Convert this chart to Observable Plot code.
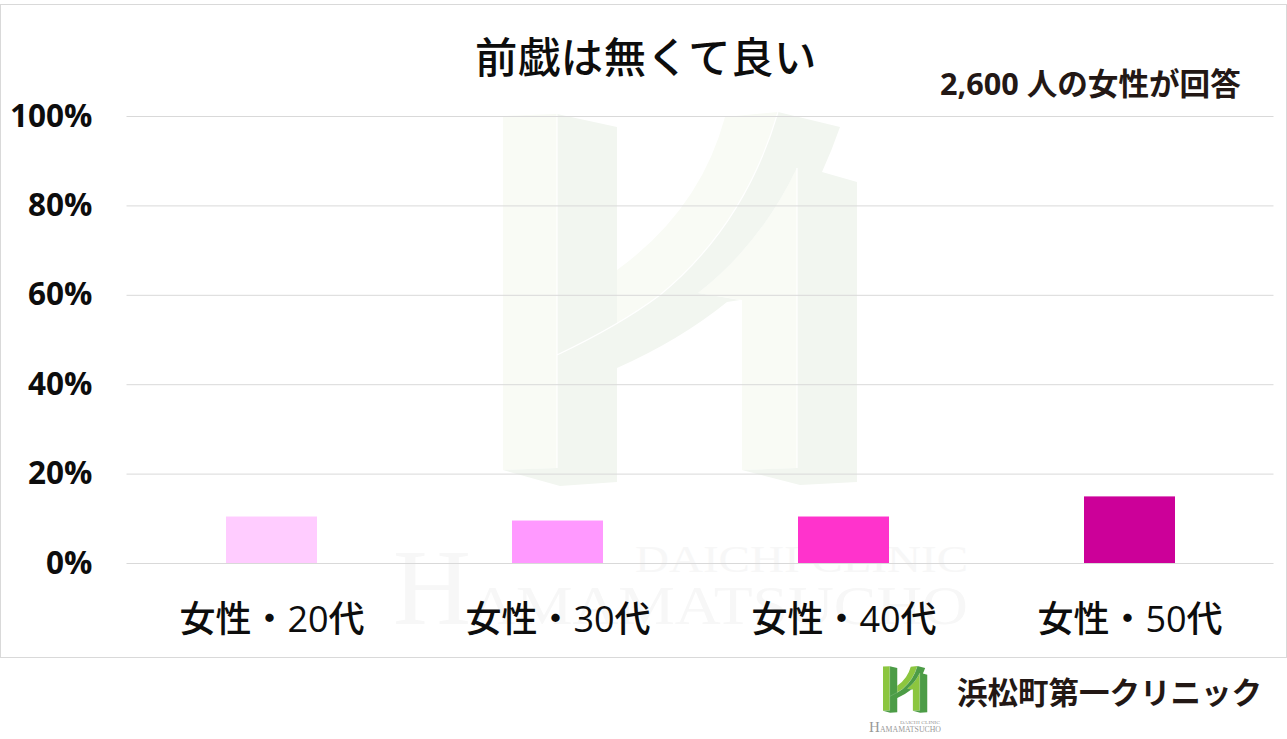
<!DOCTYPE html>
<html lang="ja">
<head>
<meta charset="utf-8">
<script src="https://cdn.jsdelivr.net/npm/d3@7"></script>
<script src="https://cdn.jsdelivr.net/npm/@observablehq/plot@0.6"></script>
<style>
html,body{margin:0;padding:0;background:#fff;}
body{width:1287px;height:739px;overflow:hidden;position:relative;font-family:"Open Sans","Noto Sans CJK JP",sans-serif;}
.abs{position:absolute;white-space:nowrap;line-height:1;}
#frame{left:0;top:4px;width:1285px;height:652px;border:1px solid #d9d9d9;}
#title{left:475px;top:34px;font-size:42.3px;font-weight:500;color:#0d0d0d;letter-spacing:0.6px;font-family:"Noto Sans CJK JP",sans-serif;}
#sub{left:940px;top:68px;font-size:30.6px;font-weight:700;color:#231815;}
#brand{left:957px;top:676px;font-size:30.5px;font-weight:700;color:#231815;font-family:"Noto Sans CJK JP",sans-serif;}
#chart{left:0;top:0;}
#art{left:0;top:0;}
#chart svg{display:block;}
.wm{fill:#f7f7f7;font-family:"Liberation Serif",serif;}
.lg{fill:#999;font-family:"Liberation Serif",serif;}
</style>
</head>
<body>
<svg id="art" class="abs" width="1287" height="739" viewBox="0 0 1287 739" aria-hidden="true">
  <defs>
    <g id="mark">
      <path fill="var(--l)" d="M503 116L557 114V468L503 470Z"/>
      <path fill="var(--l)" d="M557 355Q620 325 660 295Q745 225 778 112L725 117Q700 210 617 270V320Z"/>
      <path fill="var(--l)" d="M797 168V468L742 470V300L698 293Q760 245 797 168Z"/>
      <path fill="var(--d)" d="M557 114L617 127V482L560 486L503 470L557 468Z"/>
      <path fill="var(--d)" d="M778 112L840 127Q832 150 822 172L857 182V482L800 485L742 470L797 468V168Q760 245 698 293L740 300L727 302Q680 340 617 368L558 355Q620 325 660 295Q745 225 778 112Z"/>
      <path fill="none" stroke="#fff" stroke-width="1.2" d="M557 114V468M557 355Q620 325 660 295Q745 225 778 112M797 168V468"/>
    </g>
  </defs>
  <g style="--l:#f9fbf5;--d:#f2f6f0"><use href="#mark"/></g>
  <text class="wm" x="393" y="624" font-size="108">H</text>
  <text class="wm" x="635" y="572" font-size="38" textLength="333" lengthAdjust="spacingAndGlyphs">DAICHI CLINIC</text>
  <text class="wm" x="470" y="624" font-size="54" textLength="498" lengthAdjust="spacingAndGlyphs">AMAMATSUCHO</text>
  <g style="--l:#8cc63f;--d:#4c9c46"><use href="#mark" transform="translate(883 666) scale(.125) translate(-503 -112)"/></g>
  <text class="lg" x="869" y="732" font-size="15">H</text>
  <text class="lg" x="900" y="724" font-size="5" textLength="40" lengthAdjust="spacingAndGlyphs">DAICHI CLINIC</text>
  <text class="lg" x="880" y="732" font-size="8" textLength="61" lengthAdjust="spacingAndGlyphs">AMAMATSUCHO</text>
</svg>
<div id="frame" class="abs"></div>
<div id="chart" class="abs"></div>
<div id="title" class="abs">前戯は無くて良い</div>
<div id="sub" class="abs">2,600 人の女性が回答</div>
<div id="brand" class="abs">浜松町第一クリニック</div>
<script>
const categories = ["女性・20代", "女性・30代", "女性・40代", "女性・50代"];
const values = [10.4, 9.5, 10.4, 14.9];
const barColors = ["#FFCCFF", "#FF99FF", "#FF33CC", "#CC0099"];
const yTicks = [0, 20, 40, 60, 80, 100];
const rows = categories.map((category, i) => ({category, value: values[i], color: barColors[i]}));

const fontFamily = '"Open Sans", "Noto Sans CJK JP", sans-serif';
const plot = Plot.plot({
  width: 1287,
  height: 739,
  marginTop: 116,
  marginBottom: 176,
  marginLeft: 126.5,
  marginRight: 13.5,
  style: {background: "transparent", fontFamily},
  x: {domain: categories, paddingInner: 0.682, paddingOuter: 0.341, label: null},
  y: {domain: [0, 100], label: null},
  marks: [
    Plot.ruleY(yTicks, {stroke: "#d9d9d9", strokeWidth: 1, strokeOpacity: 1}),
    Plot.barY(rows, {x: "category", y: "value", fill: "color"}),
    Plot.axisY({
      ticks: yTicks, tickSize: 0, tickPadding: 34.5, label: null,
      tickFormat: d => d + "%", fontSize: 31.5, fontWeight: 700, fill: "#0d0d0d"
    }),
    Plot.axisX({
      tickSize: 0, tickPadding: 43, label: null,
      fontSize: 36, fontWeight: 500, fill: "#0d0d0d"
    })
  ]
});
document.getElementById("chart").appendChild(plot);
</script>
</body>
</html>
